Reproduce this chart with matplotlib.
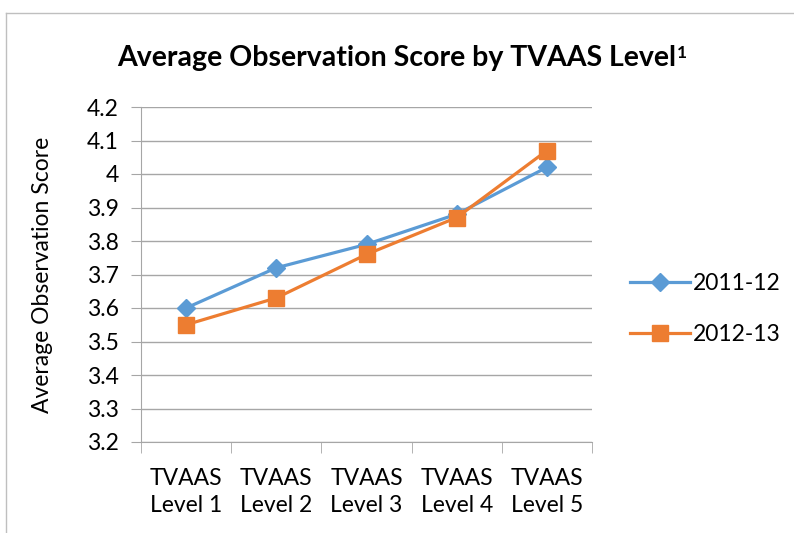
import matplotlib
matplotlib.use("Agg")
import matplotlib.pyplot as plt
from matplotlib.lines import Line2D

plt.rcParams['font.family'] = ['Lato', 'DejaVu Sans']

# data
levels = ["TVAAS\nLevel 1", "TVAAS\nLevel 2", "TVAAS\nLevel 3", "TVAAS\nLevel 4", "TVAAS\nLevel 5"]
scores_2011 = [3.60, 3.72, 3.79, 3.88, 4.02]
scores_2012 = [3.55, 3.63, 3.76, 3.87, 4.07]
y_ticks = [3.2, 3.3, 3.4, 3.5, 3.6, 3.7, 3.8, 3.9, 4.0, 4.1, 4.2]
y_labels = ["3.2", "3.3", "3.4", "3.5", "3.6", "3.7", "3.8", "3.9", "4", "4.1", "4.2"]

W, H = 794, 533
fig = plt.figure(figsize=(W / 100, H / 100), dpi=100)
ax = fig.add_axes([141 / W, 1 - 442 / H, (592 - 141) / W, (442 - 107) / H])

grid_col = "#A6A6A6"
blue = "#5B9BD5"
orange = "#ED7D31"
fs = 16.5

x = list(range(len(levels)))
ax.plot(x, scores_2011, color=blue, lw=2.3, marker="D", ms=9,
        label="2011-12", zorder=3)
ax.plot(x, scores_2012, color=orange, lw=2.3, marker="s", ms=11,
        label="2012-13", zorder=4)

ax.set_xlim(-0.5, len(levels) - 0.5)
ax.set_ylim(3.2, 4.2)
ax.set_yticks(y_ticks)
ax.set_yticklabels(y_labels)
ax.set_xticks(x)
ax.set_xticklabels(levels, linespacing=1.35)
ax.set_xticks([i - 0.5 for i in range(len(levels) + 1)], minor=True)
ax.tick_params(axis="x", which="major", length=0, pad=19, labelsize=fs)
ax.tick_params(axis="x", which="minor", length=8, color=grid_col, direction="out")
ax.tick_params(axis="y", length=7, color=grid_col, direction="out", pad=9, labelsize=fs)

ax.grid(axis="y", color=grid_col, lw=1.0)
ax.set_axisbelow(True)
for side in ["top", "right"]:
    ax.spines[side].set_visible(False)
ax.spines["left"].set_color(grid_col)
ax.spines["bottom"].set_color(grid_col)

ax.set_ylabel("Average Observation Score", fontsize=fs, labelpad=24)

# title with superscript
title = fig.text(0.5, 1 - 58 / H, "Average Observation Score by TVAAS Level",
                 ha="center", va="center", fontsize=20.5, fontweight="bold")
fig.canvas.draw()
ax.annotate("1", xy=(1, 1), xycoords=title, xytext=(0.5, 0), textcoords="offset points",
            ha="left", va="top", fontsize=12.5, fontweight="bold")

ax.legend(loc="center left", bbox_to_anchor=(630 / W, 1 - 309 / H),
          bbox_transform=fig.transFigure, frameon=False, fontsize=fs,
          handlelength=2.6, labelspacing=1.35, handletextpad=0.15,
          borderpad=0, borderaxespad=0)

# chart area border
fig.add_artist(Line2D([6 / W, 1], [1 - 13 / H, 1 - 13 / H], color="#BFBFBF", lw=1))
fig.add_artist(Line2D([6 / W, 6 / W], [0, 1 - 13 / H], color="#BFBFBF", lw=1))

fig.savefig("out.png", dpi=100)
